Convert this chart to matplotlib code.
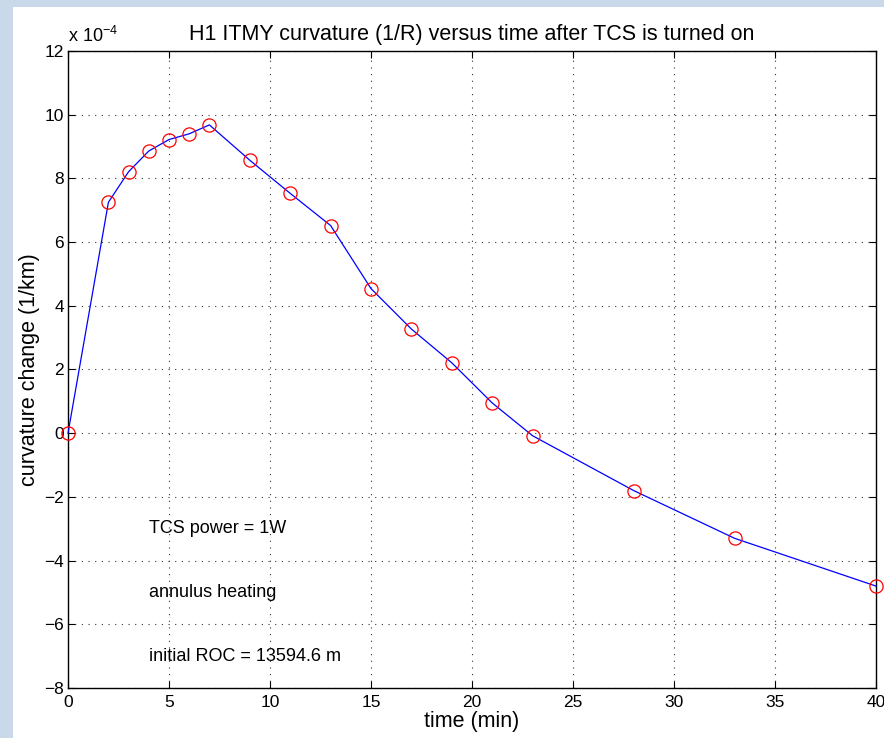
import matplotlib
matplotlib.use('Agg')
import matplotlib.pyplot as plt
from matplotlib.patches import Rectangle

plt.rcParams['font.family'] = ['Liberation Sans', 'DejaVu Sans']

# time after TCS is turned on (min)
time_min = [0, 2, 3, 4, 5, 6, 7, 9, 11, 13, 15, 17, 19, 21, 23, 28, 33, 40]
# curvature change, in units of 1e-4 (1/km)
curvature = [0.0, 7.25, 8.21, 8.86, 9.22, 9.40, 9.68, 8.57, 7.53, 6.52,
             4.54, 3.27, 2.21, 0.95, -0.08, -1.80, -3.30, -4.80]

xticks = [0, 5, 10, 15, 20, 25, 30, 35, 40]
yticks = [-8, -6, -4, -2, 0, 2, 4, 6, 8, 10, 12]
notes = ['TCS power = 1W', 'annulus heating', 'initial ROC = 13594.6 m']
notes_y = [-3, -5, -7]

W, H = 884, 738
fig = plt.figure(figsize=(W / 100, H / 100), dpi=100)
fig.patch.set_facecolor('#c9d9ea')
fig.patches.append(Rectangle((13 / W, 0), 1, 1 - 7 / H, transform=fig.transFigure,
                             facecolor='white', edgecolor='none', zorder=-10))

ax = fig.add_axes([68 / W, 1 - 688 / H, (876 - 68) / W, (688 - 51) / H])
ax.set_zorder(5)
ax.plot(time_min, curvature, color='blue', linewidth=0.9, clip_on=False, zorder=3)
ax.plot(time_min, curvature, linestyle='none', marker='o', markersize=9.5,
        markerfacecolor='none', markeredgecolor='red', markeredgewidth=0.9,
        clip_on=False, zorder=4)

ax.set_xlim(0, 40)
ax.set_ylim(-8, 12)
ax.set_xticks(xticks)
ax.set_yticks(yticks)
ax.set_xticklabels([str(t) for t in xticks], fontsize=12.5)
ax.set_yticklabels([str(t).replace('-', '\u2212') for t in yticks], fontsize=12.5)
ax.tick_params(direction='in', length=5, width=0.8, top=True, right=True, pad=3)
ax.tick_params(axis='x', pad=5)
ax.grid(True, linestyle=(0, (1, 5)), color='#333333', linewidth=0.8)
for s in ax.spines.values():
    s.set_linewidth(1.0)

ax.set_xlabel('time (min)', fontsize=15.5, labelpad=1)
ax.set_ylabel('curvature change (1/km)', fontsize=15.5, labelpad=3)
ax.set_title('H1 ITMY curvature (1/R) versus time after TCS is turned on', fontsize=15.5, pad=8)
ax.text(0, 1.008, r'x 10$^{\mathregular{-4}}$', transform=ax.transAxes, fontsize=13,
        ha='left', va='bottom')

for txt, yy in zip(notes, notes_y):
    ax.text(4, yy, txt, fontsize=13, ha='left', va='center')

fig.savefig('out.png', dpi=100, facecolor=fig.get_facecolor())
